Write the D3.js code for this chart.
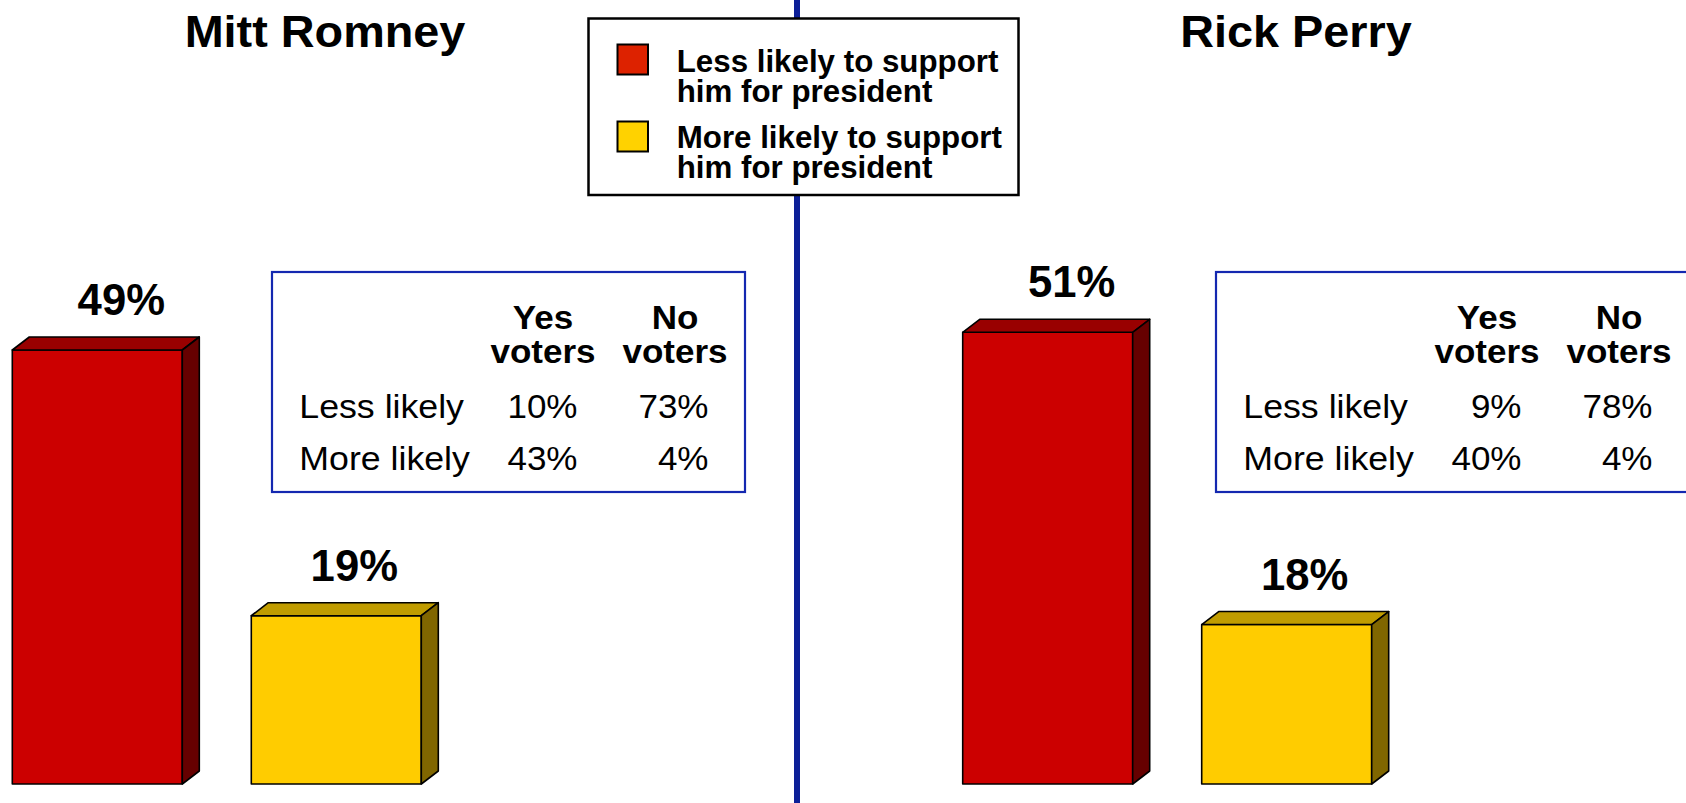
<!DOCTYPE html>
<html>
<head>
<meta charset="utf-8">
<script src="https://cdn.jsdelivr.net/npm/d3@7"></script>
<style>
  html, body { margin: 0; padding: 0; background: #fff; }
  svg { display: block; }
  text { font-family: "Liberation Sans", Arial, sans-serif; fill: #000; }
</style>
</head>
<body>
<svg id="chart" width="1686" height="803"></svg>
<script>
// ---- data ----
const candidates = ["Mitt Romney", "Rick Perry"];
const series = ["Less likely to support him for president", "More likely to support him for president"];
const lessLikely = [49, 51];
const moreLikely = [19, 18];
const tableColumns = ["Yes voters", "No voters"];
const tableRows = ["Less likely", "More likely"];
const romneyYes = [10, 43];
const romneyNo = [73, 4];
const perryYes = [9, 40];
const perryNo = [78, 4];

// ---- layout ----
const W = 1686, H = 803;
const svg = d3.select("#chart");
const baseY = 784;
const y = d3.scaleLinear().domain([0, 49]).range([baseY, 350]);
const panelX = d3.scaleOrdinal().domain(candidates).range([12.3, 962.7]);
const tableX = d3.scaleOrdinal().domain(candidates).range([272, 1216]);
const titleX = d3.scaleOrdinal().domain(candidates).range([325, 1296]);
const barX = d3.scaleBand().domain(series).range([0, 409]).paddingInner(0.2887).paddingOuter(0);
const labelShift = [24, 18];
const DX = 17, DY = 13;

const colors = {
  front: ["#cc0000", "#ffcc00"],
  top: ["#990000", "#c09c00"],
  side: ["#660000", "#806600"],
  swatch: ["#dd2200", "#ffd200"]
};

// divider line
svg.append("line")
  .attr("x1", 797).attr("x2", 797).attr("y1", 0).attr("y2", H)
  .attr("stroke", "#0c1f98").attr("stroke-width", 6);

function stext(g, str, x, yy, size, sx, weight, anchor) {
  return g.append("text")
    .attr("transform", `translate(${x},${yy}) scale(${sx},1)`)
    .attr("text-anchor", anchor)
    .style("font-size", size + "px")
    .style("font-weight", weight)
    .text(str);
}

const tables = [[romneyYes, romneyNo], [perryYes, perryNo]];

candidates.forEach((c, ci) => {
  const g = svg.append("g");
  // title
  stext(g, c, titleX(c), 47, 45, 1.04, "bold", "middle");

  // bars
  const vals = [lessLikely[ci], moreLikely[ci]];
  vals.forEach((v, si) => {
    const x0 = panelX(c) + barX(series[si]);
    const x1 = x0 + barX.bandwidth();
    const yt = y(v);
    const yb = y(0);
    // front
    g.append("path")
      .attr("d", `M${x0},${yt}L${x1},${yt}L${x1},${yb}L${x0},${yb}Z`)
      .attr("fill", colors.front[si]).attr("stroke", "#000").attr("stroke-width", 1.6)
      .attr("stroke-linejoin", "round");
    // top
    g.append("path")
      .attr("d", `M${x0},${yt}L${x0 + DX},${yt - DY}L${x1 + DX},${yt - DY}L${x1},${yt}Z`)
      .attr("fill", colors.top[si]).attr("stroke", "#000").attr("stroke-width", 1.6)
      .attr("stroke-linejoin", "round");
    // side
    g.append("path")
      .attr("d", `M${x1},${yt}L${x1 + DX},${yt - DY}L${x1 + DX},${yb - DY}L${x1},${yb}Z`)
      .attr("fill", colors.side[si]).attr("stroke", "#000").attr("stroke-width", 1.6)
      .attr("stroke-linejoin", "round");
    // label
    stext(g, v + "%", (x0 + x1) / 2 + labelShift[si], yt - DY - 22, 45, 0.97, "bold", "middle");
  });

  // table box
  const bx = tableX(c);
  g.append("rect")
    .attr("x", bx).attr("y", 272).attr("width", 473).attr("height", 220)
    .attr("fill", "#fff").attr("stroke", "#1428b0").attr("stroke-width", 2.2);
  const colCenter = [271, 403];
  const colRight = [305.5, 436.5];
  tableColumns.forEach((col, k) => {
    const parts = col.split(" ");
    stext(g, parts[0], bx + colCenter[k], 329.3, 34, 1.03, "bold", "middle");
    stext(g, parts[1], bx + colCenter[k], 362.7, 34, 1.03, "bold", "middle");
  });
  const rowY = [417.7, 470];
  tableRows.forEach((r, ri) => {
    stext(g, r, bx + 27.3, rowY[ri], 34, 1.05, "normal", "start");
    tables[ci].forEach((colVals, k) => {
      stext(g, colVals[ri] + "%", bx + colRight[k], rowY[ri], 34, 1.03, "normal", "end");
    });
  });
});

// legend
const lg = svg.append("g");
lg.append("rect")
  .attr("x", 588.5).attr("y", 18.5).attr("width", 430).attr("height", 176.5)
  .attr("fill", "#fff").attr("stroke", "#000").attr("stroke-width", 2.5);
const swY = [44.5, 121.5];
const txtY = [[71.7, 101.7], [148.3, 178]];
series.forEach((s, i) => {
  lg.append("rect")
    .attr("x", 617.5).attr("y", swY[i]).attr("width", 30.5).attr("height", 30)
    .attr("fill", colors.swatch[i]).attr("stroke", "#000").attr("stroke-width", 2);
  const words = s.split(" ");
  const line1 = words.slice(0, 4).join(" ");
  const line2 = words.slice(4).join(" ");
  stext(lg, line1, 676.7, txtY[i][0], 31, 1.01, "bold", "start");
  stext(lg, line2, 676.7, txtY[i][1], 31, 1.01, "bold", "start");
});
</script>
</body>
</html>
